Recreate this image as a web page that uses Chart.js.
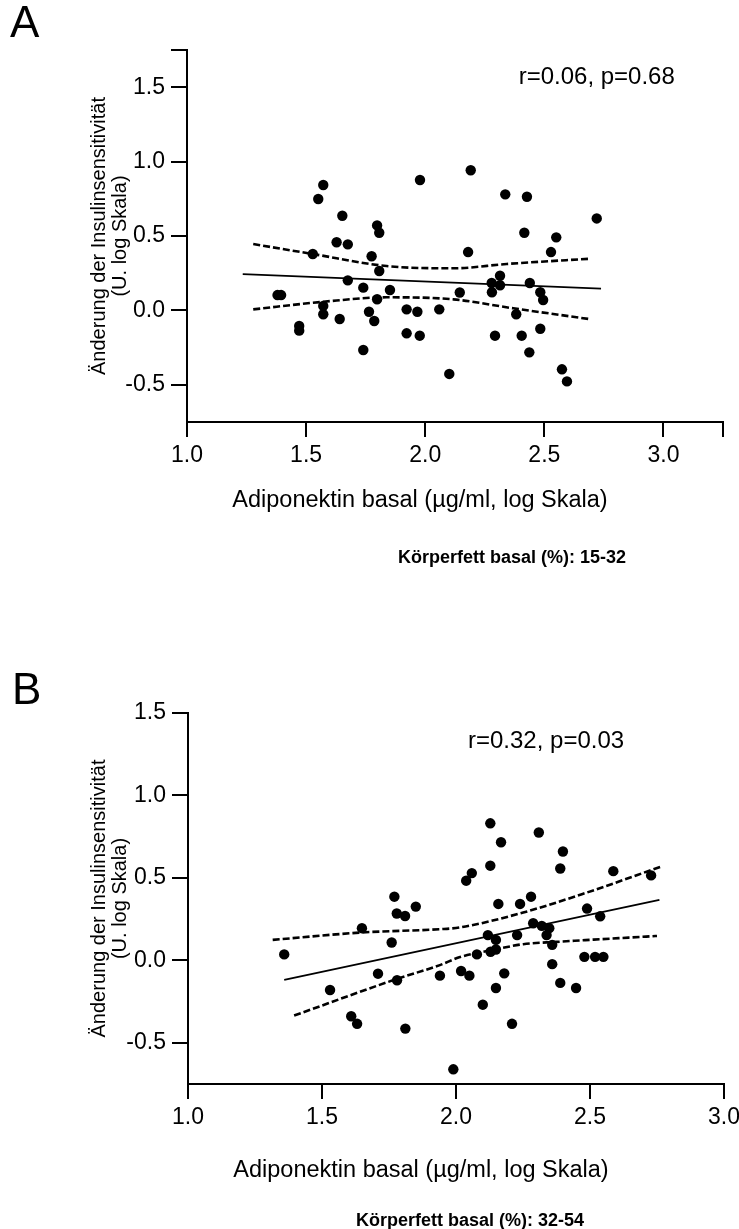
<!DOCTYPE html>
<html>
<head>
<meta charset="utf-8">
<script src="https://cdn.jsdelivr.net/npm/chart.js@4.4.1/dist/chart.umd.min.js"></script>
<style>
  html, body { margin: 0; padding: 0; background: #fff; }
  body { width: 739px; height: 1229px; position: relative; overflow: hidden;
         font-family: "Liberation Sans", Arial, Helvetica, sans-serif; color: #000; }
  .panel { position: absolute; left: 0; width: 739px; }
  .txt { position: absolute; white-space: nowrap; line-height: 1; }
  .letter { font-size: 44px; }
  .xtitle { font-size: 23.5px; transform: translateX(-50%); }
  .caption { font-size: 18px; font-weight: bold; transform: translateX(-50%); }
</style>
</head>
<body>
<div class="panel" style="top:0;height:614px"><canvas id="chartA" width="739" height="614"></canvas></div>
<div class="panel" style="top:614px;height:615px"><canvas id="chartB" width="739" height="615"></canvas></div>

<div class="txt letter" style="left:10px;top:0px">A</div>
<div class="txt xtitle" style="left:420px;top:488px">Adiponektin basal (µg/ml, log Skala)</div>
<div class="txt caption" style="left:512px;top:548px">Körperfett basal (%): 15-32</div>

<div class="txt letter" style="left:12px;top:667px">B</div>
<div class="txt xtitle" style="left:421px;top:1158px">Adiponektin basal (µg/ml, log Skala)</div>
<div class="txt caption" style="left:470px;top:1211px">Körperfett basal (%): 32-54</div>

<script>
// Zwei Streudiagramme: Adiponektin vs. Änderung der Insulinsensitivität, mit Regressionsgerade und 95%-Band.

const FONT = '"Liberation Sans", Arial, Helvetica, sans-serif';
const Y_TITLE = ["Änderung der Insulinsensitivität", "(U. log Skala)"];

// --- Panel A (Körperfett 15-32) ---
const aX = [1.572, 1.551, 1.978, 1.652, 1.798, 1.807, 1.628, 1.675, 1.528, 1.775,
            1.807, 1.675, 1.740, 1.852, 1.380, 1.395, 2.145, 1.798, 1.572, 1.572,
            1.922, 1.967, 2.059, 1.764, 1.641, 1.786, 1.471, 1.471, 1.922, 1.977,
            1.740, 2.101, 2.191, 2.336, 2.427, 2.720, 2.416, 2.550, 2.180, 2.528,
            2.314, 2.279, 2.314, 2.439, 2.280, 2.483, 2.495, 2.382, 2.483, 2.293,
            2.405, 2.437, 2.574, 2.595];
const aY = [0.843, 0.749, 0.876, 0.636, 0.571, 0.522, 0.458, 0.444, 0.379, 0.364,
            0.265, 0.202, 0.153, 0.137, 0.103, 0.103, 0.120, 0.075, 0.030, -0.026,
            0.007, -0.009, 0.007, -0.009, -0.058, -0.071, -0.105, -0.136, -0.154, -0.170,
            -0.266, -0.427, 0.942, 0.780, 0.764, 0.618, 0.522, 0.491, 0.392, 0.392,
            0.233, 0.184, 0.169, 0.184, 0.122, 0.122, 0.070, -0.026, -0.123, -0.170,
            -0.170, -0.282, -0.396, -0.477];
const aFitX = [1.234, 2.738];
const aFitY = [0.244, 0.146];
const aUpperX = [1.278, 1.528, 1.838, 2.118, 2.342, 2.688];
const aUpperY = [0.446, 0.379, 0.298, 0.283, 0.312, 0.347];
const aLowerX = [1.278, 1.572, 1.838, 2.118, 2.370, 2.688];
const aLowerY = [0.007, 0.058, 0.088, 0.074, 0.014, -0.058];
const aXTicks = [1.0, 1.5, 2.0, 2.5, 3.0, 3.25];
const aYTicks = [-0.5, 0.0, 0.5, 1.0, 1.5, 1.75];
const aBlank = [3.25, 1.75];
const aStat = "r=0.06, p=0.68";

// --- Panel B (Körperfett 32-54) ---
const bX = [1.359, 1.530, 1.609, 1.631, 1.649, 1.709, 1.760, 1.770, 1.779, 1.810,
            1.780, 1.850, 1.811, 1.940, 1.990, 2.019, 2.038, 2.059, 2.050, 2.078,
            2.100, 2.119, 2.128, 2.128, 2.129, 2.149, 2.149, 2.158, 2.149, 2.168,
            2.180, 2.209, 2.228, 2.239, 2.280, 2.288, 2.309, 2.320, 2.338, 2.348,
            2.359, 2.359, 2.389, 2.399, 2.389, 2.448, 2.479, 2.519, 2.550, 2.489,
            2.538, 2.587, 2.728];
const bY = [0.036, -0.180, -0.339, -0.385, 0.195, -0.081, 0.108, 0.386, 0.284, 0.269,
            -0.121, 0.326, -0.414, -0.093, -0.661, -0.065, 0.483, 0.529, -0.093, 0.036,
            -0.269, 0.153, 0.831, 0.574, 0.052, 0.066, 0.124, 0.342, -0.168, 0.716,
            -0.079, -0.385, 0.153, 0.342, 0.386, 0.225, 0.775, 0.209, 0.153, 0.195,
            0.094, -0.023, 0.557, 0.660, -0.137, -0.168, 0.021, 0.021, 0.021, 0.314,
            0.267, 0.541, 0.515];
const bFitX = [1.359, 2.759];
const bFitY = [-0.118, 0.366];
const bUpperX = [1.316, 1.649, 1.940, 2.012, 2.251, 2.488, 2.770];
const bUpperY = [0.124, 0.169, 0.189, 0.199, 0.290, 0.411, 0.571];
const bLowerX = [1.396, 1.779, 1.940, 2.012, 2.152, 2.251, 2.376, 2.750];
const bLowerY = [-0.335, -0.113, -0.029, 0.018, 0.068, 0.098, 0.112, 0.148];
const bXTicks = [1.0, 1.5, 2.0, 2.5, 3.0];
const bYTicks = [-0.5, 0.0, 0.5, 1.0, 1.5];
const bBlank = [];
const bStat = "r=0.32, p=0.03";

Chart.defaults.font.family = FONT;
Chart.defaults.color = "#000";

const zip = (xs, ys) => xs.map((x, i) => ({ x, y: ys[i] }));

// r/p-Text an Datenkoordinaten
const statLabel = {
  id: "statLabel",
  afterDatasetsDraw(chart, args, opts) {
    const { ctx, scales: { x, y } } = chart;
    ctx.save();
    ctx.font = `24px ${FONT}`;
    ctx.fillStyle = "#000";
    ctx.textAlign = "center";
    ctx.textBaseline = "middle";
    ctx.fillText(opts.text, x.getPixelForValue(opts.x), y.getPixelForValue(opts.y));
    ctx.restore();
  },
};

function makeChart(id, p) {
  const line = (xs, ys, dashed) => ({
    data: zip(xs, ys),
    showLine: true,
    pointRadius: 0,
    borderColor: "#000",
    borderWidth: dashed ? 2.6 : 1.8,
    borderDash: dashed ? [7, 3] : [],
    cubicInterpolationMode: dashed ? "monotone" : "default",
    fill: false,
  });
  const fmt = (blank) => (v) => (blank.includes(v) ? "" : v.toFixed(1));

  return new Chart(document.getElementById(id), {
    type: "scatter",
    data: {
      datasets: [
        { data: zip(p.x, p.y), pointRadius: 5.2, pointHoverRadius: 5.2, backgroundColor: "#000", borderColor: "#000", borderWidth: 0 },
        line(p.fitX, p.fitY, false),
        line(p.upX, p.upY, true),
        line(p.loX, p.loY, true),
      ],
    },
    options: {
      responsive: false,
      animation: false,
      events: [],
      layout: { padding: p.pad },
      plugins: {
        legend: { display: false },
        tooltip: { enabled: false },
        statLabel: { text: p.stat, x: p.statX, y: p.statY },
      },
      scales: {
        x: {
          type: "linear",
          min: p.xMin, max: p.xMax,
          afterBuildTicks: (s) => { s.ticks = p.xTicks.map((v) => ({ value: v })); },
          ticks: { callback: fmt(p.blank), font: { size: 23 }, padding: 5, maxRotation: 0, autoSkip: false },
          grid: { drawOnChartArea: false, tickLength: 15, color: "#000", lineWidth: 2 },
          border: { color: "#000", width: 2 },
          afterFit: (s) => { s.height = 40; s.paddingLeft = 0; s.paddingRight = 0; },
        },
        y: {
          min: p.yMin, max: p.yMax,
          afterBuildTicks: (s) => { s.ticks = p.yTicks.map((v) => ({ value: v })); },
          ticks: { callback: fmt(p.blank), font: { size: 23 }, padding: 6, autoSkip: false },
          grid: { drawOnChartArea: false, tickLength: 16, color: "#000", lineWidth: 2 },
          border: { color: "#000", width: 2 },
          title: { display: true, text: Y_TITLE, font: { size: 20, lineHeight: 1.05 }, padding: { top: 89, bottom: 0 } },
          afterFit: (s) => { s.width = p.yWidth; s.paddingTop = 0; s.paddingBottom = 0; },
        },
      },
    },
    plugins: [statLabel],
  });
}

makeChart("chartA", {
  x: aX, y: aY, fitX: aFitX, fitY: aFitY, upX: aUpperX, upY: aUpperY, loX: aLowerX, loY: aLowerY,
  xMin: 1.0, xMax: 3.25, yMin: -0.75, yMax: 1.75, xTicks: aXTicks, yTicks: aYTicks, blank: aBlank,
  stat: aStat, statX: 2.72, statY: 1.568,
  yWidth: 187, pad: { top: 50, right: 16, bottom: 152, left: 0 },
});

makeChart("chartB", {
  x: bX, y: bY, fitX: bFitX, fitY: bFitY, upX: bUpperX, upY: bUpperY, loX: bLowerX, loY: bLowerY,
  xMin: 1.0, xMax: 3.0, yMin: -0.75, yMax: 1.5, xTicks: bXTicks, yTicks: bYTicks, blank: bBlank,
  stat: bStat, statX: 2.336, statY: 1.328,
  yWidth: 188, pad: { top: 99, right: 15, bottom: 105, left: 0 },
});
</script>
</body>
</html>
